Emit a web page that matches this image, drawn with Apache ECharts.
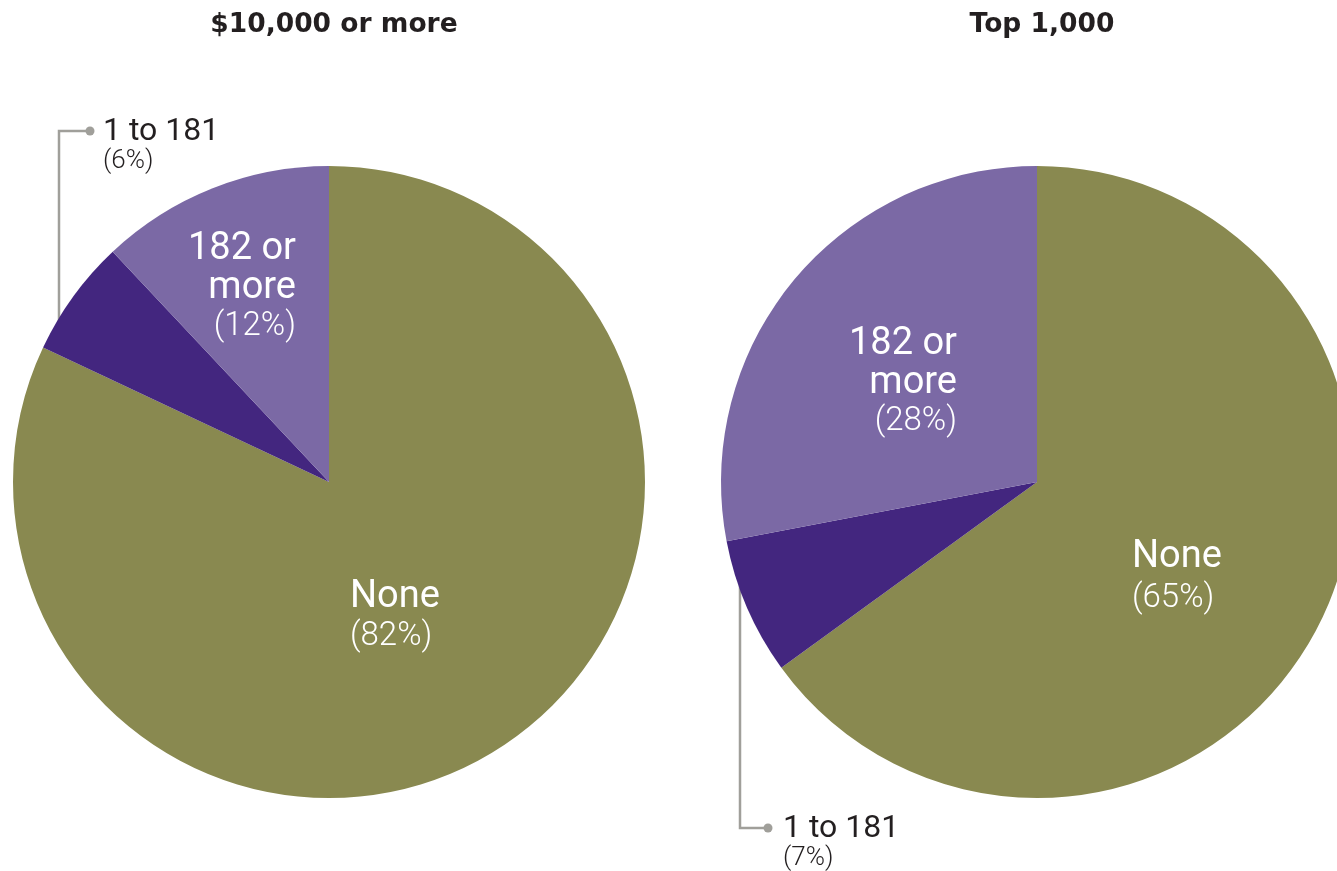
<!DOCTYPE html>
<html>
<head>
<meta charset="utf-8">
<script src="https://cdn.jsdelivr.net/npm/echarts@6/dist/echarts.min.js"></script>
<style>
html,body{margin:0;padding:0;background:#fff;}
#chart{width:1337px;height:871px;}
</style>
</head>
<body>
<div id="chart"></div>
<script>
// ---- data ----
var titles = ['$10,000 or more', 'Top 1,000'];
var categories = ['None', '1 to 181', '182 or more'];
var leftValues = [82, 6, 12];
var rightValues = [65, 7, 28];
var colors = ['#898950', '#43267f', '#7b69a5'];

// ---- layout (not data) ----
var centers = [[329, 482], [1037, 482]];
var R = 316;
// per series, per data index: label placement relative to pie center
var labelPlace = [
  [
    {dx: 21, dy: 135, align: 'left'},
    {dx: -226, dy: -366, align: 'left', verticalAlign: 'top', line: [[-270, -147], [-270, -351], [-239, -351]]},
    {dx: -33, dy: -194, align: 'right'}
  ],
  [
    {dx: 95, dy: 96, align: 'left', lh: 41},
    {dx: -254, dy: 331, align: 'left', verticalAlign: 'top', line: [[-297, 81], [-297, 346], [-269, 346]]},
    {dx: -80, dy: -99, align: 'right'}
  ]
];

var chart = echarts.init(document.getElementById('chart'));

function pct(v, arr) {
  var s = arr.reduce(function (a, b) { return a + b; }, 0);
  return Math.round(v / s * 100);
}

function buildSeries(idx, values) {
  var c = centers[idx];
  return {
    type: 'pie',
    center: c,
    radius: R,
    startAngle: 90,
    clockwise: true,
    silent: true,
    animation: false,
    itemStyle: {borderWidth: 0},
    data: values.map(function (v, i) {
      var isOut = i === 1;
      var name = categories[i];
      var p = pct(v, values);
      var lh = labelPlace[idx][i].lh || 39;
      return {
        name: name,
        value: v,
        itemStyle: {color: colors[i]},
        label: isOut ? {
          show: true,
          position: 'outside',
          overflow: 'none',
          width: 200,
          formatter: '{a|' + name + '}\n{b|(' + p + '%)}',
          rich: {
            a: {fontFamily: 'Roboto', fontSize: 32, color: '#231f20', lineHeight: 31, width: 200},
            b: {fontFamily: 'Roboto', fontWeight: 300, fontSize: 26, color: '#231f20', lineHeight: 29, width: 200}
          }
        } : {
          show: true,
          position: 'inside',
          overflow: 'none',
          formatter: (i === 2 ? '{a|182 or}\n{a|more}' : '{a|' + name + '}') + '\n{b|(' + p + '%)}',
          rich: {
            a: {fontFamily: 'Roboto', fontSize: 38, color: '#ffffff', lineHeight: lh},
            b: {fontFamily: 'Roboto', fontWeight: 300, fontSize: 33, color: '#ffffff', lineHeight: lh}
          }
        },
        labelLine: isOut ? {show: true, lineStyle: {color: '#a09f9a', width: 2.5}} : {show: false}
      };
    }),
    labelLayout: function (params) {
      var cfg = labelPlace[idx][params.dataIndex];
      var out = {
        x: c[0] + cfg.dx,
        y: c[1] + cfg.dy,
        align: cfg.align,
        verticalAlign: cfg.verticalAlign || 'middle'
      };
      if (cfg.line) {
        out.width = 200;
        out.labelLinePoints = cfg.line.map(function (p) { return [c[0] + p[0], c[1] + p[1]]; });
      }
      return out;
    }
  };
}

var dots = [];
[0, 1].forEach(function (s) {
  var cfg = labelPlace[s][1];
  var end = cfg.line[2];
  dots.push({
    type: 'circle',
    shape: {cx: centers[s][0] + end[0], cy: centers[s][1] + end[1], r: 4.5},
    style: {fill: '#a09f9a'},
    z: 100
  });
});

chart.setOption({
  backgroundColor: '#ffffff',
  animation: false,
  title: titles.map(function (t, i) {
    return {
      text: t,
      left: centers[i][0],
      top: 7,
      textAlign: 'center',
      textStyle: {fontFamily: 'DejaVu Sans', fontWeight: 'bold', fontSize: 26.5, color: '#231f20'}
    };
  }),
  series: [buildSeries(0, leftValues), buildSeries(1, rightValues)],
  graphic: dots
});
</script>
</body>
</html>
